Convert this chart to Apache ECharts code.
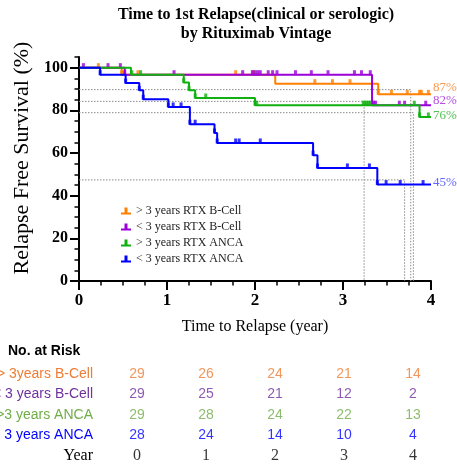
<!DOCTYPE html>
<html><head><meta charset="utf-8">
<script src="https://cdn.jsdelivr.net/npm/echarts@6/dist/echarts.min.js"></script>
<style>html,body{margin:0;padding:0;background:#fff}#c{width:457px;height:466px}</style>
</head><body><div id="c"></div>
<script>
// ---- data ----
const seriesNames = ['> 3 years RTX B-Cell', '< 3 years RTX B-Cell', '> 3 years RTX ANCA', '< 3 years RTX ANCA'];
const orangeTimes = [0, 0.485, 2.23, 3.40, 4];
const orangeSurv  = [100, 96.7, 92.5, 87.5, 87.5];
const orangeCensor = [0.22, 0.485, 0.67, 1.78, 1.98, 2.68, 2.88, 3.08, 3.40, 3.55, 3.73, 3.87, 3.89, 3.97];
const purpleTimes = [0, 0.52, 3.33, 4];
const purpleSurv  = [100, 96.7, 82.4, 82.4];
const purpleCensor = [0.05, 0.33, 0.47, 0.52, 1.08, 1.86, 1.97, 2.0, 2.03, 2.06, 2.15, 2.2, 2.25, 2.46, 2.64, 2.83, 3.13, 3.21, 3.31, 3.33, 3.35, 3.37, 3.64, 3.70, 3.94];
const greenTimes = [0, 0.59, 1.19, 1.25, 1.32, 2.0, 3.87, 4];
const greenSurv  = [100, 96.7, 93.0, 89.4, 85.8, 82.4, 76.9, 76.9];
const greenCensor = [0.60, 0.70, 1.19, 1.25, 1.32, 1.44, 2.0, 2.02, 3.23, 3.25, 3.27, 3.29, 3.31, 3.81, 3.87, 3.97];
const blueTimes = [0, 0.24, 0.53, 0.685, 0.73, 1.015, 1.26, 1.54, 1.57, 2.66, 2.71, 3.39, 4];
const blueSurv  = [100, 96.7, 92.8, 89.4, 85.2, 81.6, 73.5, 69.4, 64.7, 59.0, 53.0, 45.2, 45.2];
const blueCensor = [0.24, 0.53, 0.685, 0.73, 1.015, 1.07, 1.16, 1.26, 1.32, 1.54, 1.57, 1.78, 1.82, 2.06, 2.66, 2.71, 3.05, 3.30, 3.39, 3.49, 3.65, 3.91];
const endLabels = ['87%', '82%', '76%', '45%'];
const refLevels = [89.7, 84.2, 78.9, 47.4];
const refTimes  = [3.77, 3.24, 3.80, 3.70];
const xTickLabels = [0, 1, 2, 3, 4];
const yMajor = [0, 20, 40, 60, 80, 100];
const yMinor = [5, 10, 15, 25, 30, 35, 45, 50, 55, 65, 70, 75, 85, 90, 95, 105];
const riskRows = ['> 3years B-Cell', '< 3 years B-Cell', '>3 years ANCA', '< 3 years ANCA', 'Year'];
const riskYears = [0, 1, 2, 3, 4];
const riskOrange = [29, 26, 24, 21, 14];
const riskPurple = [29, 25, 21, 12, 2];
const riskGreen  = [29, 28, 24, 22, 13];
const riskBlue   = [28, 24, 14, 10, 4];

// ---- styling ----
const lineColors = ['#FF8000', '#9B00D9', '#10B010', '#0000FF'];
const labelColors = ['#FF9A4D', '#B84DE6', '#4DC44D', '#6666FF'];
const labelOffsets = [-7, -5, -1, -2];
const tableColors = ['#EE7D33', '#7030A0', '#70AD47', '#0000FF', '#000000'];
const serif = '"Liberation Serif", "Times New Roman", serif';
const sans = '"Liberation Sans", Arial, sans-serif';

const groups = [
  [orangeTimes, orangeSurv, orangeCensor],
  [purpleTimes, purpleSurv, purpleCensor],
  [greenTimes, greenSurv, greenCensor],
  [blueTimes, blueSurv, blueCensor]
];
function survAt(times, surv, t) {
  let v = surv[0];
  for (let i = 0; i < times.length; i++) if (times[i] <= t + 1e-9) v = surv[i];
  return v;
}

const series = [];
refLevels.forEach((L, i) => {
  series.push({
    type: 'line', xAxisIndex: 0, yAxisIndex: 0, silent: true, symbol: 'none', z: 1,
    data: [[0, L], [refTimes[i], L], [refTimes[i], 0]],
    lineStyle: { color: '#8c8c8c', width: 1, type: [1.5, 1.5] }
  });
});
groups.forEach((g, i) => {
  const [times, surv, cens] = g;
  series.push({
    name: seriesNames[i], type: 'line', step: 'end', xAxisIndex: 0, yAxisIndex: 0,
    symbol: 'none', z: 3 + i,
    data: times.map((t, k) => [t, surv[k]]),
    lineStyle: { color: lineColors[i], width: 2 },
    itemStyle: { color: lineColors[i] },
    endLabel: {
      show: true, formatter: endLabels[i], color: labelColors[i],
      fontFamily: serif, fontSize: 13, distance: 2, offset: [0, labelOffsets[i]]
    }
  });
  series.push({
    type: 'scatter', xAxisIndex: 0, yAxisIndex: 0, silent: true, z: 3 + i,
    symbol: 'rect', symbolSize: [3, 5], symbolOffset: [0, -2],
    data: cens.map(t => [t, survAt(times, surv, t)]),
    itemStyle: { color: lineColors[i] }
  });
});
const riskVals = [riskOrange, riskPurple, riskGreen, riskBlue, riskYears];
riskVals.forEach((vals, r) => {
  series.push({
    type: 'scatter', xAxisIndex: 1, yAxisIndex: 2, silent: true,
    symbolSize: 1, itemStyle: { color: 'transparent' },
    data: riskYears.map((y, k) => [y, riskRows[r], vals[k]]),
    label: {
      show: true, position: 'inside', formatter: p => String(p.value[2]),
      color: tableColors[r],
      fontFamily: r === 4 ? serif : sans, fontSize: r === 4 ? 16 : 14
    }
  });
});

const rich = {};
riskRows.forEach((_, i) => {
  rich['r' + i] = i === 4
    ? { color: '#000', fontFamily: serif, fontSize: 16 }
    : { color: tableColors[i], fontFamily: sans, fontSize: 14 };
});

const chart = echarts.init(document.getElementById('c'), null, { renderer: 'canvas' });
chart.setOption({
  animation: false,
  backgroundColor: '#fff',
  graphic: [
    { type: 'text', x: 256, y: 5, style: {
      text: 'Time to 1st Relapse(clinical or serologic)\nby Rituximab Vintage',
      font: 'bold 16px ' + serif, fill: '#000', textAlign: 'center', lineHeight: 19 } },
    { type: 'text', x: 8, y: 344, style: {
      text: 'No. at Risk', font: 'bold 14px ' + sans, fill: '#000' } }
  ],
  legend: {
    data: seriesNames, orient: 'vertical', left: 121, top: 205,
    itemWidth: 10, itemHeight: 7, itemGap: 4, padding: 0,
    icon: 'path://M0,5 L10,5 L10,7 L0,7 Z M3.5,0 L6.5,0 L6.5,5 L3.5,5 Z',
    textStyle: { fontFamily: serif, fontSize: 12, color: '#222' },
    selectedMode: false
  },
  grid: [
    { left: 79, top: 57, width: 352, height: 224, outerBoundsMode: 'none', containLabel: false },
    { left: 137, top: 364, width: 276, height: 102, outerBoundsMode: 'none', containLabel: false }
  ],
  xAxis: [
    { type: 'value', gridIndex: 0, min: 0, max: 4, interval: 1,
      axisLine: { lineStyle: { color: '#000', width: 2 } },
      axisTick: { length: 9, lineStyle: { width: 2, color: '#000' } },
      minorTick: { show: true, splitNumber: 4, length: 4.5, lineStyle: { width: 1.5, color: '#000' } },
      axisLabel: { fontFamily: serif, fontWeight: 'bold', fontSize: 17, color: '#000', margin: 11,
        formatter: v => xTickLabels.includes(v) ? String(v) : '' },
      splitLine: { show: false },
      name: 'Time to Relapse (year)', nameLocation: 'middle', nameGap: 38,
      nameTextStyle: { fontFamily: serif, fontSize: 16, color: '#000' } },
    { type: 'value', gridIndex: 1, min: 0, max: 4, show: false }
  ],
  yAxis: [
    { type: 'value', gridIndex: 0, min: 0, max: 105, position: 'left',
      axisLine: { show: true, lineStyle: { color: '#000', width: 2 } },
      axisTick: { show: true, length: 9, customValues: yMajor, lineStyle: { width: 2, color: '#000' } },
      axisLabel: { customValues: yMajor, fontFamily: serif, fontWeight: 'bold', fontSize: 16, color: '#000', margin: 11 },
      splitLine: { show: false },
      name: 'Relapse Free Survival (%)', nameLocation: 'middle', nameGap: 46,
      nameTextStyle: { fontFamily: serif, fontSize: 22, color: '#000', padding: [0, 0, 0, 22] } },
    { type: 'value', gridIndex: 0, min: 0, max: 105, position: 'left',
      axisLine: { show: false },
      axisTick: { show: true, length: 4.5, customValues: yMinor, lineStyle: { width: 1.5, color: '#000' } },
      axisLabel: { show: false }, splitLine: { show: false } },
    { type: 'category', gridIndex: 1, data: riskRows, inverse: true,
      axisLine: { show: false }, axisTick: { show: false }, splitLine: { show: false },
      axisLabel: { margin: 44, formatter: v => '{r' + riskRows.indexOf(v) + '|' + v + '}', rich: rich } }
  ],
  series: series
});
</script>
</body></html>
